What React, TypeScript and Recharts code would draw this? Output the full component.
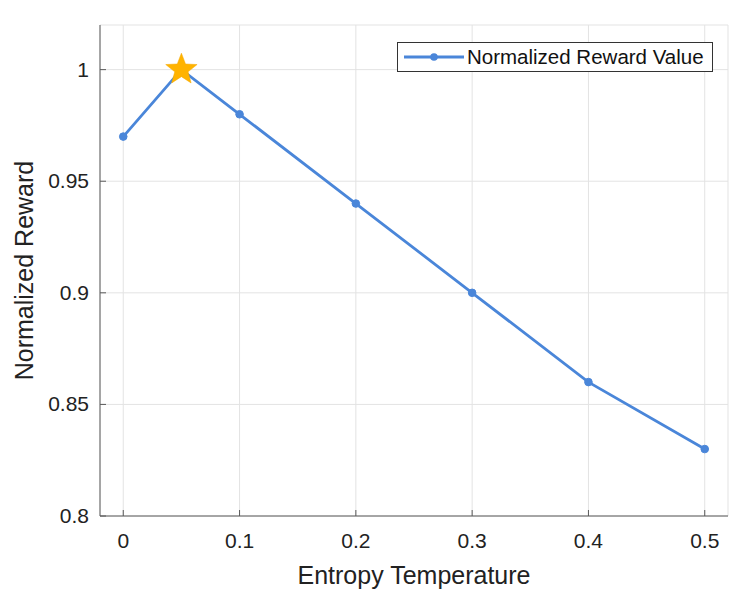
import React from "react";
import {
  LineChart,
  Line,
  XAxis,
  YAxis,
  CartesianGrid,
  Legend,
} from "recharts";

const temperatures = [0, 0.05, 0.1, 0.2, 0.3, 0.4, 0.5];
const rewards = [0.97, 1.0, 0.98, 0.94, 0.9, 0.86, 0.83];
const xTicks = [0, 0.1, 0.2, 0.3, 0.4, 0.5];
const yTicks = [0.8, 0.85, 0.9, 0.95, 1];
const bestTemp = 0.05;
const bestReward = 1.0;

const data = temperatures.map((t, i) => ({
  t,
  reward: rewards[i],
  best: t === bestTemp ? bestReward : null,
}));

const lineColor = "#4a86d9";
const axisColor = "#5a5a5a";
const fontFamily = "'Liberation Sans', Arial, sans-serif";

function XTick({ x = 0, y = 0, payload }: any) {
  return (
    <g>
      <line x1={x} y1={y} x2={x} y2={y - 6} stroke={axisColor} strokeWidth={1} />
      <text x={x} y={y + 32} textAnchor="middle" fill="#222" fontSize={21} fontFamily={fontFamily}>
        {String(payload.value)}
      </text>
    </g>
  );
}

function YTick({ x = 0, y = 0, payload }: any) {
  return (
    <g>
      <line x1={x} y1={y} x2={x + 6} y2={y} stroke={axisColor} strokeWidth={1} />
      <text x={x - 11} y={y + 7} textAnchor="end" fill="#222" fontSize={21} fontFamily={fontFamily}>
        {String(payload.value)}
      </text>
    </g>
  );
}

function renderStar(props: any) {
  const { cx, cy, value, index } = props;
  if (value == null || cx == null || cy == null) return <g key={`s-${index}`} />;
  const outer = 16.5;
  const inner = 7;
  const pts: string[] = [];
  for (let i = 0; i < 10; i++) {
    const r = i % 2 === 0 ? outer : inner;
    const a = -Math.PI / 2 + (i * Math.PI) / 5;
    pts.push(`${cx + r * Math.cos(a)},${cy + r * Math.sin(a)}`);
  }
  return <polygon key={`s-${index}`} points={pts.join(" ")} fill="#ffb300" stroke="#f5a800" strokeWidth={0.5} />;
}

function LegendBox() {
  return (
    <div
      style={{
        width: 316,
        height: 30,
        border: "1px solid #333",
        background: "#fff",
        display: "flex",
        alignItems: "center",
        fontFamily,
        fontSize: 20.5,
        color: "#111",
        boxSizing: "border-box",
        whiteSpace: "nowrap",
      }}
    >
      <svg width={64} height={20} style={{ marginLeft: 4, flexShrink: 0 }}>
        <line x1={2} y1={10} x2={62} y2={10} stroke={lineColor} strokeWidth={2.8} />
        <circle cx={32} cy={10} r={3.8} fill={lineColor} />
      </svg>
      <span style={{ marginLeft: 1 }}>Normalized Reward Value</span>
    </div>
  );
}

export default function App() {
  return (
    <div style={{ position: "absolute", left: 0, top: 0, background: "#fff" }}>
      <LineChart width={748} height={598} data={data} margin={{ top: 25, right: 20, bottom: 0, left: 0 }}>
        <CartesianGrid stroke="#e3e3e3" strokeWidth={1} />
        <XAxis
          dataKey="t"
          type="number"
          domain={[-0.02, 0.52]}
          ticks={xTicks}
          allowDataOverflow
          stroke={axisColor}
          tickLine={false}
          tickSize={0}
          tickMargin={0}
          tick={<XTick />}
          height={82}
          label={{
            value: "Entropy Temperature",
            position: "insideBottom",
            offset: 14,
            fontSize: 25,
            fill: "#222",
            fontFamily,
          }}
        />
        <YAxis
          type="number"
          domain={[0.8, 1.02]}
          ticks={yTicks}
          allowDataOverflow
          stroke={axisColor}
          tickLine={false}
          tickSize={0}
          tickMargin={0}
          tick={<YTick />}
          width={100}
          label={{
            value: "Normalized Reward",
            angle: -90,
            position: "insideLeft",
            offset: 24,
            fontSize: 25,
            fill: "#222",
            fontFamily,
            style: { textAnchor: "middle" },
          }}
        />
        <Legend
          layout="horizontal"
          verticalAlign="middle"
          content={<LegendBox />}
          wrapperStyle={{ position: "absolute", top: 42, left: 397, width: "auto" }}
        />
        <Line
          dataKey="reward"
          name="Normalized Reward Value"
          stroke={lineColor}
          strokeWidth={2.8}
          dot={{ r: 3.8, fill: lineColor, stroke: lineColor, strokeWidth: 1 }}
          isAnimationActive={false}
        />
        <Line
          dataKey="best"
          stroke="none"
          legendType="none"
          dot={renderStar}
          activeDot={false}
          isAnimationActive={false}
        />
      </LineChart>
    </div>
  );
}
